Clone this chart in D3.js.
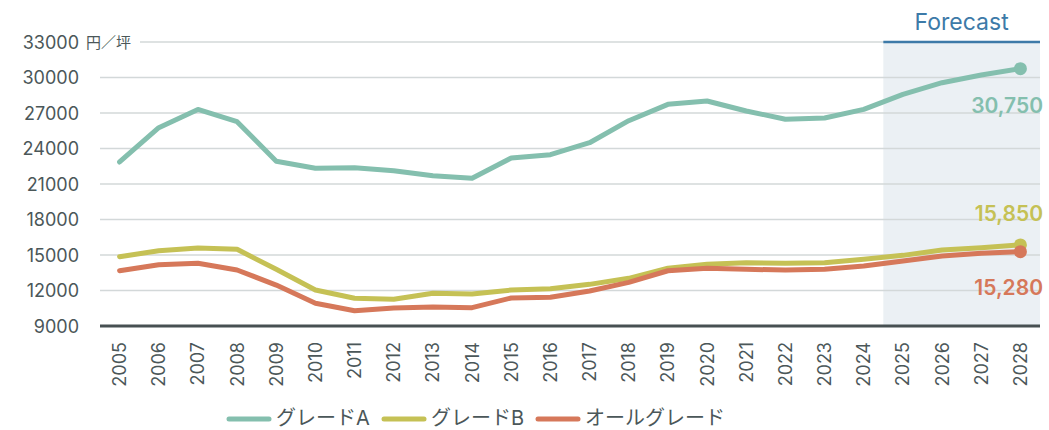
<!DOCTYPE html>
<html><head><meta charset="utf-8">
<script src="https://cdn.jsdelivr.net/npm/d3@7"></script>
<style>body{margin:0;background:#fff}svg{display:block}</style>
</head><body><svg id="c" width="1049" height="430"></svg>
<script>
const years = ["2005","2006","2007","2008","2009","2010","2011","2012","2013","2014","2015","2016","2017","2018","2019","2020","2021","2022","2023","2024","2025","2026","2027","2028"];
const gradeA = [22860,25760,27300,26270,22920,22330,22380,22120,21700,21480,23200,23480,24490,26350,27730,28010,27170,26470,26580,27310,28580,29560,30210,30750];
const gradeB = [14860,15360,15590,15480,13790,12040,11340,11260,11760,11700,12040,12150,12520,13030,13880,14210,14350,14300,14350,14640,14970,15420,15620,15850];
const allGrade = [13670,14180,14300,13730,12460,10920,10290,10520,10610,10550,11370,11430,11960,12690,13670,13880,13790,13730,13790,14070,14490,14920,15140,15280];
const seriesNames = ["グレードA","グレードB","オールグレード"];
const yTicks = [9000,12000,15000,18000,21000,24000,27000,30000,33000];
const forecastStart = "2025";
const unitLabel = "円／坪";
const forecastLabel = "Forecast";

const colors = ["#84bfae","#c5c155","#d6785a"];
const font = "Inter, 'Noto Sans CJK JP', sans-serif";
const svg = d3.select("#c");
const L=100,R=1040,T=42,B=326;
const x = d3.scalePoint().domain(years).range([L,R]).padding(0.5);
const step = x.step();
const y = d3.scaleLinear().domain([9000,33000]).range([B,T]);

// forecast band
const fx = x(forecastStart)-step/2;
svg.append("rect").attr("x",fx).attr("y",T).attr("width",R-fx).attr("height",B-T).attr("fill","#ebf0f4");

// grid
yTicks.forEach(t=>{
  if(t===9000) return;
  svg.append("line").attr("x1", t===33000?140:L).attr("x2",R).attr("y1",y(t)).attr("y2",y(t))
    .attr("stroke","#d3d8d9").attr("stroke-width",1.5);
});
svg.append("line").attr("x1",fx).attr("x2",R).attr("y1",T).attr("y2",T).attr("stroke","#3d7aa8").attr("stroke-width",2.5);
svg.append("text").attr("x",(fx+R)/2).attr("y",30).attr("text-anchor","middle")
  .attr("font-family",font).attr("font-size",23).attr("fill","#3d7aa8").text(forecastLabel);

// y labels
yTicks.forEach(t=>{
  svg.append("text").attr("x",79).attr("y",y(t)+6.5).attr("text-anchor","end")
    .attr("font-family",font).attr("font-size",18).attr("fill","#4b5759").text(t);
});
svg.append("text").attr("x",86).attr("y",y(33000)+6).attr("font-family",font).attr("font-size",15).attr("fill","#4b5759").text(unitLabel);

// baseline
svg.append("line").attr("x1",L).attr("x2",R).attr("y1",B).attr("y2",B).attr("stroke","#475052").attr("stroke-width",3);

// x labels
years.forEach(yr=>{
  svg.append("text").attr("transform",`translate(${x(yr)+6.5},${342}) rotate(-90)`).attr("text-anchor","end")
    .attr("font-family",font).attr("font-size",18).attr("fill","#4b5759").text(yr);
});

// lines
const data=[gradeA,gradeB,allGrade];
const line = d3.line().x((d,i)=>x(years[i])).y(d=>y(d));
data.forEach((s,k)=>{
  svg.append("path").attr("d",line(s)).attr("fill","none").attr("stroke",colors[k]).attr("stroke-width",5)
    .attr("stroke-linejoin","round").attr("stroke-linecap","round");
});
data.forEach((s,k)=>{
  svg.append("circle").attr("cx",x(years[years.length-1])).attr("cy",y(s[s.length-1])).attr("r",6.5).attr("fill",colors[k]);
});
// end labels
const labY=[113,221,295];
data.forEach((s,k)=>{
  svg.append("text").attr("x",1043).attr("y",labY[k]).attr("text-anchor","end").attr("font-family",font)
    .attr("font-size",21).attr("font-weight",600).attr("fill",colors[k]).text(d3.format(",")(s[s.length-1]));
});

// legend
const legX=[227,382,536];
seriesNames.forEach((n,k)=>{
  svg.append("line").attr("x1",legX[k]+2).attr("x2",legX[k]+42).attr("y1",419).attr("y2",419)
    .attr("stroke",colors[k]).attr("stroke-width",5).attr("stroke-linecap","round");
  svg.append("text").attr("x",legX[k]+49).attr("y",425).attr("font-family",font).attr("font-size",20)
    .attr("fill","#4b5759").text(n);
});
</script></body></html>
